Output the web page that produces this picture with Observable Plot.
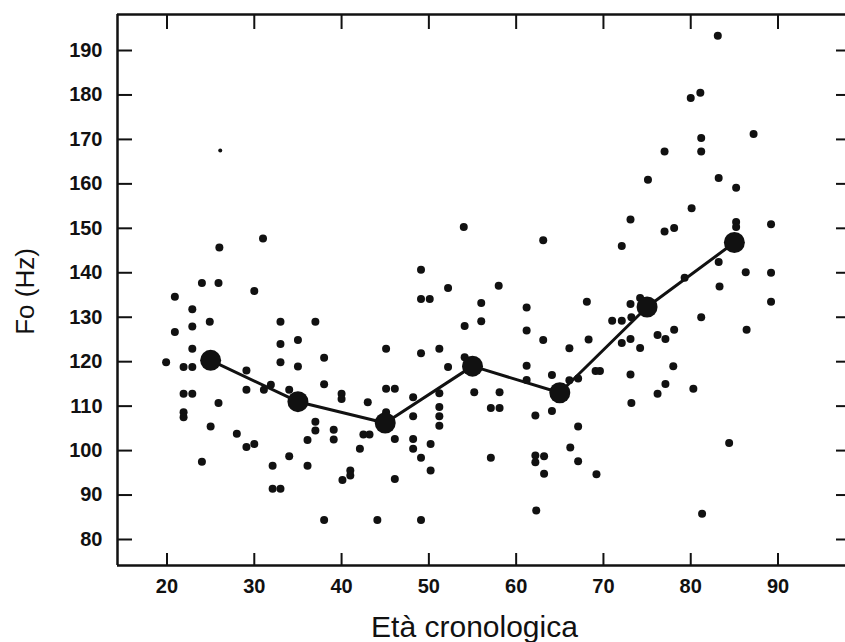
<!DOCTYPE html>
<html><head><meta charset="utf-8">
<script src="https://cdn.jsdelivr.net/npm/d3@7"></script>
<script src="https://cdn.jsdelivr.net/npm/@observablehq/plot@0.6"></script>
<style>body{margin:0;background:#fff}</style>
</head><body><div id="chart"></div>
<script>
// Individual speakers: chronological age and fundamental frequency (Hz)
const age = [31.0,26.0,24.0,25.9,30.0,20.9,22.9,20.9,22.9,24.9,22.9,19.9,21.9,22.9,21.9,22.9,21.9,21.9,25.9,24.0,
  25.0,29.1,29.1,28.0,29.1,30.0,31.1,31.9,33.0,33.0,33.0,35.0,35.0,34.0,37.0,38.0,38.0,40.0,40.0,37.0,
  37.0,36.1,39.1,39.1,34.0,32.1,36.1,32.1,33.0,38.0,40.1,41.0,41.0,54.0,63.1,49.1,52.2,58.0,49.1,50.1,
  56.0,56.0,54.1,61.2,61.2,63.1,66.1,45.1,49.1,51.2,52.2,54.1,61.2,61.2,64.1,66.1,67.1,43.0,45.1,46.1,
  45.1,48.2,51.2,55.2,58.1,57.1,58.1,51.2,51.2,51.2,48.2,42.5,43.2,42.1,46.1,48.2,48.2,49.1,50.2,50.2,
  46.1,44.1,49.1,57.1,62.2,62.2,62.2,63.2,63.2,62.3,64.1,66.2,67.1,67.1,83.1,80.0,81.1,81.2,81.2,77.0,
  87.2,75.1,83.2,85.2,80.1,73.1,77.0,78.1,85.2,85.2,89.2,72.1,83.2,79.3,86.3,89.2,83.3,74.2,68.1,89.2,
  73.1,81.2,86.4,71.0,72.1,73.2,76.2,77.1,78.1,68.3,72.1,73.1,74.2,78.0,69.1,69.6,73.1,77.1,76.2,80.3,
  73.2,69.2,84.4,81.3];
const f0 = [147.7,145.7,137.7,137.7,135.9,134.6,131.8,126.7,127.9,129.0,122.9,119.9,118.8,118.8,112.8,112.8,108.6,107.5,110.7,97.5,
  105.4,118.0,113.7,103.8,100.8,101.5,113.7,114.8,129.0,124.0,119.9,124.9,118.9,113.7,129.0,120.9,114.9,112.8,111.6,106.5,
  104.5,102.4,104.7,102.5,98.7,96.6,96.6,91.4,91.4,84.4,93.4,95.5,94.4,150.3,147.3,140.7,136.6,137.1,134.1,134.1,
  133.2,129.1,128.0,132.2,127.0,124.9,123.0,122.9,121.9,122.9,118.8,121.0,119.1,115.9,117.0,115.8,116.2,110.9,113.9,113.9,
  108.6,112.0,112.9,113.1,113.1,109.6,109.6,109.8,107.7,105.6,107.7,103.6,103.6,100.4,102.6,102.6,100.4,98.4,101.5,95.5,
  93.6,84.4,84.4,98.4,107.9,98.9,97.4,98.7,94.8,86.5,108.9,100.7,105.4,97.6,193.3,179.3,180.5,170.3,167.3,167.3,
  171.2,160.9,161.3,159.1,154.5,152.0,149.3,150.1,151.4,150.3,150.9,146.0,142.4,138.9,140.1,140.0,136.9,134.3,133.5,133.5,
  133.0,130.0,127.2,129.2,129.2,130.0,126.0,125.1,127.2,125.0,124.2,125.1,123.1,119.0,117.9,117.9,117.1,115.0,112.8,113.9,
  110.7,94.7,101.7,85.8];
// faint (small) point
const faintAge = [26.1];
const faintF0 = [167.5];
// decade means
const decadeAge = [25, 35, 45, 55, 65, 75, 85];
const decadeMean = [120.3, 111.0, 106.2, 119.0, 113.0, 132.3, 146.8];
// axes
const xTicks = [20, 30, 40, 50, 60, 70, 80, 90];
const yTicks = [80, 90, 100, 110, 120, 130, 140, 150, 160, 170, 180, 190];
const xTitle = "Età cronologica";
const yTitle = "Fo (Hz)";

const points = age.map((a, i) => ({age: a, f0: f0[i]}));
const faint = faintAge.map((a, i) => ({age: a, f0: faintF0[i]}));
const means = decadeAge.map((a, i) => ({age: a, f0: decadeMean[i]}));
const xDom = [14.33, 97.73], yDom = [74.15, 198.1];
const ink = "#111";

const chart = Plot.plot({
  width: 845, height: 642,
  marginLeft: 117, marginRight: 0, marginTop: 14, marginBottom: 77,
  style: {fontFamily: "Liberation Sans, Arial, sans-serif", background: "#fff", color: ink},
  x: {domain: xDom},
  y: {domain: yDom},
  marks: [
    Plot.ruleY([yDom[0]], {stroke: ink, strokeWidth: 2.5}),
    Plot.ruleY([yDom[1]], {stroke: ink, strokeWidth: 2.5}),
    Plot.ruleX([xDom[0]], {stroke: ink, strokeWidth: 2.5}),
    Plot.axisX(xTicks, {anchor: "bottom", tickSize: -12, tickPadding: 25, fontSize: 20, fontWeight: "bold", strokeWidth: 2, label: null, tickFormat: d => d}),
    Plot.axisX(xTicks, {anchor: "top", tickSize: -14, strokeWidth: 2, label: null, tickFormat: () => ""}),
    Plot.axisY(yTicks, {anchor: "left", tickSize: -15, tickPadding: 30, fontSize: 20, fontWeight: "bold", strokeWidth: 2, label: null, tickFormat: d => d}),
    Plot.axisY(yTicks, {anchor: "right", tickSize: -10, strokeWidth: 2, label: null, tickFormat: () => ""}),
    Plot.dot(points, {x: "age", y: "f0", r: 4, fill: ink, stroke: "none"}),
    Plot.dot(faint, {x: "age", y: "f0", r: 2, fill: ink, stroke: "none"}),
    Plot.line(means, {x: "age", y: "f0", stroke: ink, strokeWidth: 3}),
    Plot.dot(means, {x: "age", y: "f0", r: 10.5, fill: ink, stroke: "none"}),
    Plot.text([xTitle], {frameAnchor: "bottom", dy: 50, dx: -7, lineAnchor: "top", fontSize: 30, text: d => d, fill: ink}),
    Plot.text([yTitle], {frameAnchor: "left", textAnchor: "middle", dx: -102, dy: 1.5, rotate: -90, lineAnchor: "top", fontSize: 26, text: d => d, fill: ink})
  ]
});
document.getElementById("chart").appendChild(chart);
</script>
</body></html>
